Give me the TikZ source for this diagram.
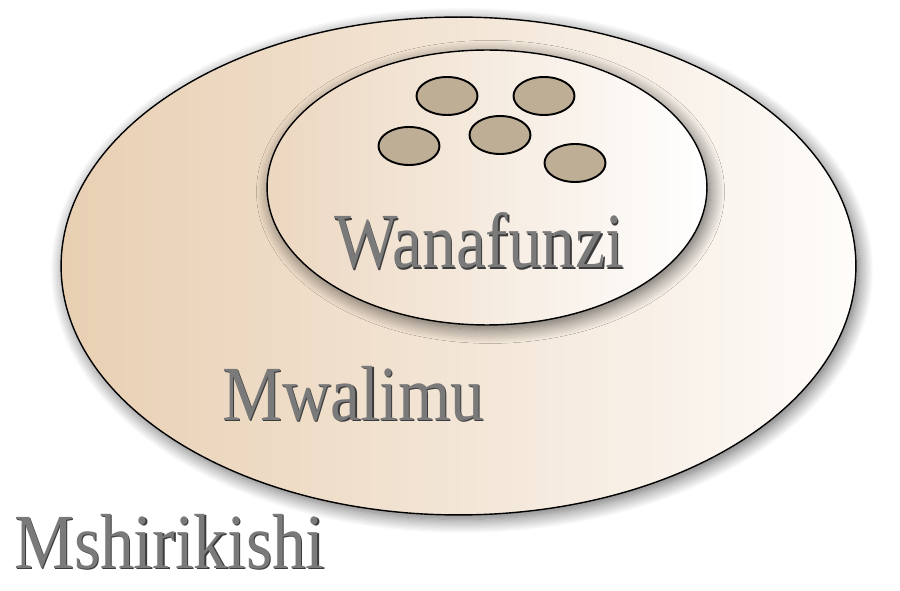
\documentclass[tikz,border=0pt]{standalone}
\usepackage{fontspec}
\setmainfont{Liberation Serif}
\usepackage{graphicx}
\usetikzlibrary{shapes.geometric,shadows.blur}

\definecolor{outerleft}{RGB}{232,207,178}
\definecolor{outerright}{RGB}{254,252,250}
\definecolor{innerleft}{RGB}{236,215,192}
\definecolor{innerright}{RGB}{255,255,255}
\definecolor{pupilfill}{RGB}{190,174,150}
\definecolor{namegray}{RGB}{122,122,122}
\definecolor{namedark}{RGB}{60,60,60}

\newcommand{\stretched}[1]{\scalebox{1}[1.16]{#1}}

\begin{document}
\begin{tikzpicture}[x=0.02cm,y=-0.02cm]
\tikzstyle{ring} = [ellipse, draw=black, line width=0.8pt, inner sep=0pt,
  blur shadow={shadow xshift=2pt, shadow yshift=-2.5pt, shadow blur radius=8pt,
    shadow blur steps=12, shadow opacity=60}]
\tikzstyle{pupil} = [ellipse, draw=black, line width=1.1pt, fill=pupilfill,
  minimum width=1.22cm, minimum height=0.76cm, inner sep=0pt]
\tikzstyle{levelname} = [inner sep=0pt, anchor=base west, text=namegray,
  font=\fontsize{38.3pt}{40pt}\selectfont]
\tikzstyle{levelshadow} = [levelname, text=namedark]

\useasboundingbox (0,0) rectangle (900,591);

\node[ring, left color=outerleft, right color=outerright,
  minimum width=15.9cm, minimum height=9.96cm] (mwalimuRing) at (458.5,266) {};
\node[ring, left color=innerleft, right color=innerright,
  minimum width=8.8cm, minimum height=5.5cm] (wanafunziRing) at (487,187.5) {};

\foreach \x/\y [count=\i] in {447/96, 544/96, 409/146, 500/135, 575/163}
  \node[pupil] (pupil\i) at (\x,\y) {};

% names of the levels
\node[levelshadow] (wanafunziShadow) at (335.5,269.5) {\stretched{Wanafunzi}};
\node[levelname] (wanafunzi) at (334,268) {\stretched{Wanafunzi}};
\node[levelshadow] (mwalimuShadow) at (223.5,421.5) {\stretched{Mwalimu}};
\node[levelname] (mwalimu) at (222,420) {\stretched{Mwalimu}};
\node[levelshadow] (mshirikishiShadow) at (15.5,569.5) {\stretched{Mshirikishi}};
\node[levelname] (mshirikishi) at (14,568) {\stretched{Mshirikishi}};

\end{tikzpicture}
\end{document}
